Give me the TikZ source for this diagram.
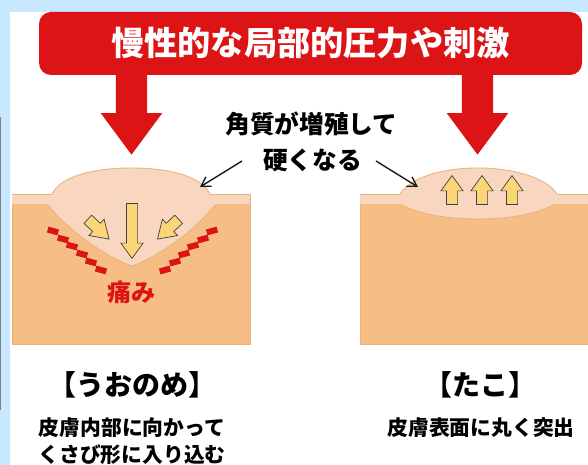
\documentclass[tikz,border=0pt]{standalone}
\usepackage{xcolor}
\usepackage{fontspec}
\setmainfont{Noto Sans CJK JP}
\usetikzlibrary{shapes.arrows, arrows.meta, positioning}
\definecolor{alarmred}{RGB}{220, 20, 22}
\definecolor{skinbase}{RGB}{246, 189, 133}
\definecolor{skinedge}{RGB}{236, 178, 124}
\definecolor{hornlayer}{RGB}{249, 214, 192}
\definecolor{arrowgold}{RGB}{252, 214, 118}
\definecolor{pagesky}{RGB}{200, 232, 255}

\begin{document}
\begin{tikzpicture}[
    x=1pt, y=-1pt,
    banner/.style={fill=alarmred, text=white, rounded corners=12pt, minimum width=543pt,
                minimum height=63pt, font=\fontsize{33.2}{33.2}\selectfont\bfseries},
    bigarrow/.style={single arrow, fill=alarmred, inner sep=0pt, text height=31pt, text depth=0pt,
                minimum height=80pt, single arrow head extend=15pt,
                single arrow tip angle=73, anchor=tip},
    smallarrow/.style={single arrow, draw=black!75, fill=arrowgold, line width=0.7pt, inner sep=0pt,
                text height=10.5pt, text depth=0pt, single arrow head extend=5.5pt,
                single arrow tip angle=72, anchor=tip},
    skin/.style={draw=skinedge, fill=skinbase, line width=0.8pt},
    horn/.style={fill=hornlayer},
    hornline/.style={draw=skinedge, line width=0.9pt},
    pain/.style={fill=alarmred, minimum width=11pt, minimum height=6pt, inner sep=0pt, rotate=#1},
    caption/.style={font=\fontsize{28}{28}\selectfont\bfseries},
    note/.style={font=\fontsize{20.8}{20.8}\selectfont\bfseries},
    callout/.style={font=\fontsize{24.7}{24.7}\selectfont\bfseries},
    pointer/.style={-{Straight Barb[length=9pt,width=11pt]}, line width=1.4pt, black!90}
]
    \useasboundingbox (0,0) rectangle (588,465);
    \fill[pagesky] (0,0) rectangle (588,465);
    \fill[white] (10,12) rectangle (588,465);
    \fill[black!50] (0,117) rectangle (1,410);

    % left block with the wedge
    \draw[skin] (12,194) rectangle (250,344);
    \fill[horn] (12,194) rectangle (250,204);
    \draw[skinedge, line width=0.8pt] (12,194) -- (52,194) (210,194) -- (250,194);
    \fill[horn] (52,194) .. controls (62,174) and (100,168) .. (131.5,168)
        .. controls (163,168) and (200,174) .. (210,194) -- (215,205)
        .. controls (195,230) and (160,256) .. (132,266)
        .. controls (104,256) and (68,230) .. (48,205) -- cycle;
    \draw[hornline] (52,194) .. controls (62,174) and (100,168) .. (131.5,168)
        .. controls (163,168) and (200,174) .. (210,194);
    \draw[hornline] (48,205) .. controls (68,230) and (104,256) .. (132,266)
        .. controls (160,256) and (195,230) .. (215,205);

    % right block with the dome
    \draw[skin] (360,194) rectangle (600,344);
    \fill[horn] (360,194) rectangle (588,204);
    \draw[skinedge, line width=0.8pt] (360,194) -- (400,194) (557,194) -- (588,194);
    \fill[horn] (400,194) .. controls (412,176) and (445,168) .. (477.5,168)
        .. controls (510,168) and (545,176) .. (557,194) -- (553,205)
        .. controls (535,215) and (505,219) .. (477.5,219)
        .. controls (450,219) and (420,215) .. (402,205) -- cycle;
    \draw[hornline] (400,194) .. controls (412,176) and (445,168) .. (477.5,168)
        .. controls (510,168) and (545,176) .. (557,194);
    \draw[hornline] (402,205) .. controls (420,215) and (450,219) .. (477.5,219)
        .. controls (505,219) and (535,215) .. (553,205);

    % pressure
    \node[banner] (pressure) at (310.5,43.5) {慢性的な局部的圧力や刺激};
    \node[bigarrow, rotate=-90] (pushleft) at (131.5,155) {};
    \node[bigarrow, rotate=-90] (pushright) at (477.5,155) {};

    % small arrows in the layers
    \node[smallarrow, rotate=-90, minimum height=55pt] (sinkmid) at (132,259) {};
    \node[smallarrow, rotate=-43, minimum height=29pt, single arrow tip angle=66] (sinkleft) at (109.5,239.5) {};
    \node[smallarrow, rotate=-137, minimum height=29pt, single arrow tip angle=66] (sinkright) at (157,239.5) {};
    \foreach \x/\name in {452/riseleft, 482/risemid, 512/riseright}
        \node[smallarrow, rotate=90, minimum height=29pt] (\name) at (\x,175) {};

    % dashes for the pain
    \foreach \x/\y [count=\i] in {53/231, 63/239, 72/246, 82/254, 91/262, 101/270}
        \node[pain=-15] (painleft\i) at (\x,\y) {};
    \foreach \x/\y [count=\i] in {212/231, 203/239, 193/246, 184/254, 175/262, 165/270}
        \node[pain=15] (painright\i) at (\x,\y) {};
    \node[text=alarmred, font=\fontsize{24}{24}\selectfont\bfseries] (painlabel) at (131,292) {痛み};

    % label over the two blocks
    \node[callout] (growlabel) at (311.5,124) {角質が増殖して};
    \node[callout] (hardlabel) at (312.5,160) {硬くなる};
    \coordinate (hardleft) at (242,161);
    \coordinate (hardright) at (376,161);
    \coordinate (wedgetop) at (200,187);
    \coordinate (dometop) at (418,187);
    \draw[pointer] (hardleft) -- (wedgetop);
    \draw[pointer] (hardright) -- (dometop);

    % names and descriptions
    \node[caption] (uonome) at (132.5,385) {【うおのめ】};
    \node[note] (uonomeone) at (132,428) {皮膚内部に向かって};
    \node[note] (uonometwo) at (132,455) {くさび形に入り込む};
    \node[caption] (tako) at (480,385) {【たこ】};
    \node[note] (takoone) at (481,428) {皮膚表面に丸く突出};
\end{tikzpicture}
\end{document}
